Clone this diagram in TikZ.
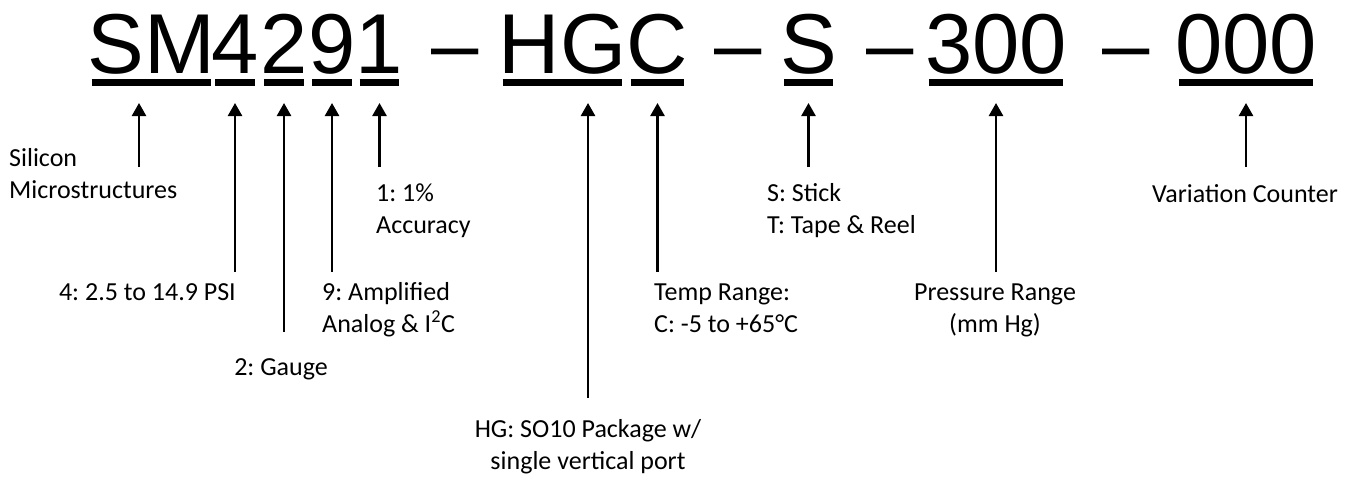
\documentclass[tikz,border=0pt]{standalone}
\usepackage{fontspec}
\setmainfont{Carlito}
\newfontfamily\codefamily{Liberation Sans}
\usetikzlibrary{arrows.meta,positioning}
\frenchspacing

\begin{document}
\begin{tikzpicture}[x=1pt, y=-1pt,
  code/.style={font=\codefamily\fontsize{85}{90}\selectfont, inner sep=0pt, anchor=base},
  lbl/.style={font=\fontsize{26}{31.5}\selectfont, inner sep=0pt},
  uline/.style={line width=7pt},
  arrow/.style={-{Triangle[length=13pt, width=14pt]}, line width=2.5pt}]
\useasboundingbox (0,0) rectangle (1355,480);
% part number
\node[code] (sm) at (151.5,73) {SM};
\node[code] (d4) at (235,73) {4};
\node[code] (d2) at (284,73) {2};
\node[code] (d9) at (332,73) {9};
\node[code] (d1) at (379.5,73) {1};
\node[code] (dash1) at (455,73) {–};
\node[code] (hg) at (562.5,73) {HG};
\node[code] (tc) at (657.5,73) {C};
\node[code] (dash2) at (738.5,73) {–};
\node[code] (pk) at (808.5,73) {S};
\node[code] (dash3) at (890.5,73) {–};
\node[code] (pr) at (996,73) {300};
\node[code] (dash4) at (1126.5,73) {–};
\node[code] (vc) at (1246,73) {000};
\draw[uline] ([xshift=4pt,yshift=-9.5pt]sm.base west) -- ([xshift=-4pt,yshift=-9.5pt]sm.base east);
\draw[uline] ([xshift=4pt,yshift=-9.5pt]d4.base west) -- ([xshift=-4pt,yshift=-9.5pt]d4.base east);
\draw[uline] ([xshift=4pt,yshift=-9.5pt]d2.base west) -- ([xshift=-4pt,yshift=-9.5pt]d2.base east);
\draw[uline] ([xshift=4pt,yshift=-9.5pt]d9.base west) -- ([xshift=-4pt,yshift=-9.5pt]d9.base east);
\draw[uline] ([xshift=4pt,yshift=-9.5pt]d1.base west) -- ([xshift=-4pt,yshift=-9.5pt]d1.base east);
\draw[uline] ([xshift=4pt,yshift=-9.5pt]hg.base west) -- ([xshift=-4pt,yshift=-9.5pt]hg.base east);
\draw[uline] ([xshift=4pt,yshift=-9.5pt]tc.base west) -- ([xshift=-4pt,yshift=-9.5pt]tc.base east);
\draw[uline] ([xshift=4pt,yshift=-9.5pt]pk.base west) -- ([xshift=-4pt,yshift=-9.5pt]pk.base east);
\draw[uline] ([xshift=4pt,yshift=-9.5pt]pr.base west) -- ([xshift=-4pt,yshift=-9.5pt]pr.base east);
\draw[uline] ([xshift=4pt,yshift=-9.5pt]vc.base west) -- ([xshift=-4pt,yshift=-9.5pt]vc.base east);
% labels (base = last line)
\node[lbl, anchor=base west, align=left] (maker) at (9,198) {Silicon\\Microstructures};
\node[lbl, anchor=base east] (range) at (236,300) {4: 2.5 to 14.9 PSI};
\node[lbl, anchor=base] (gauge) at (281,375) {2: Gauge};
\node[lbl, anchor=base west, align=left] (output) at (322,332) {9: Amplified\\Analog \& I\textsuperscript{2}C};
\node[lbl, anchor=base west, align=left] (accuracy) at (376,233) {1: 1\%\\Accuracy};
\node[lbl, anchor=base, align=center] (package) at (588,469) {HG: SO10 Package w/\\single vertical port};
\node[lbl, anchor=base west, align=left] (temp) at (654,332) {Temp Range:\\C: -5 to +65°C};
\node[lbl, anchor=base west, align=left] (packing) at (767,233) {S: Stick\\T: Tape \& Reel};
\node[lbl, anchor=base, align=center] (pressure) at (995,332) {Pressure Range\\(mm Hg)};
\node[lbl, anchor=base] (counter) at (1245,202) {Variation Counter};
% arrow feet
\coordinate (rowa) at (0,167);
\coordinate (rowb) at (0,272);
\coordinate (rowc) at (0,332);
\coordinate (rowd) at (0,398);
\draw[arrow] ([xshift=-12.5pt]sm.base |- rowa) -- ([xshift=-12.5pt,yshift=-30pt]sm.base);
\draw[arrow] (d4.base |- rowb) -- ([yshift=-30pt]d4.base);
\draw[arrow] (d2.base |- rowc) -- ([yshift=-30pt]d2.base);
\draw[arrow] (d9.base |- rowb) -- ([yshift=-30pt]d9.base);
\draw[arrow] (d1.base |- rowa) -- ([yshift=-30pt]d1.base);
\draw[arrow] ([xshift=25.5pt]hg.base |- rowd) -- ([xshift=25.5pt,yshift=-30pt]hg.base);
\draw[arrow] (tc.base |- rowb) -- ([yshift=-30pt]tc.base);
\draw[arrow] (pk.base |- rowa) -- ([yshift=-30pt]pk.base);
\draw[arrow] (pr.base |- rowb) -- ([yshift=-30pt]pr.base);
\draw[arrow] (vc.base |- rowa) -- ([yshift=-30pt]vc.base);
\end{tikzpicture}
\end{document}
